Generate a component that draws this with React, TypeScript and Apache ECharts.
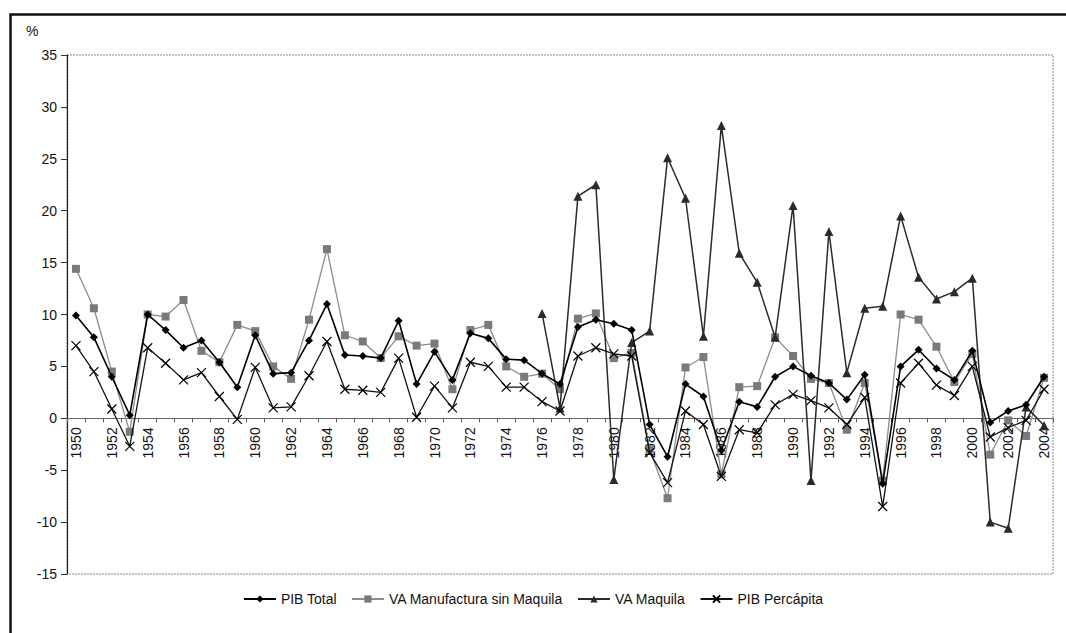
import React, { useEffect, useRef } from "react";
import * as echarts from "echarts";

const years: string[] = [];
for (let y = 1950; y <= 2004; y++) years.push(String(y));

const pibTotal = [
  9.9, 7.8, 4.0, 0.3, 10.0, 8.5, 6.8, 7.5, 5.4, 3.0,
  8.0, 4.3, 4.4, 7.5, 11.0, 6.1, 6.0, 5.8, 9.4, 3.3,
  6.4, 3.7, 8.2, 7.7, 5.7, 5.6, 4.3, 3.3, 8.8, 9.5,
  9.1, 8.5, -0.6, -3.7, 3.3, 2.1, -3.1, 1.6, 1.1, 4.0,
  5.0, 4.1, 3.4, 1.8, 4.2, -6.3, 5.0, 6.6, 4.8, 3.7,
  6.5, -0.4, 0.7, 1.3, 4.0,
];

const vaManufactura = [
  14.4, 10.6, 4.5, -1.3, 10.0, 9.8, 11.4, 6.5, 5.4, 9.0,
  8.4, 5.0, 3.8, 9.5, 16.3, 8.0, 7.4, 5.8, 7.9, 7.0,
  7.2, 2.8, 8.5, 9.0, 5.0, 4.0, 4.3, 2.8, 9.6, 10.1,
  5.8, 6.3, -3.0, -7.7, 4.9, 5.9, -5.4, 3.0, 3.1, 7.8,
  6.0, 3.8, 3.4, -1.1, 3.4, -6.0, 10.0, 9.5, 6.9, 3.5,
  6.2, -3.5, -0.2, -1.7, 3.9,
];

const vaMaquila: (number | null)[] = [
  null, null, null, null, null, null, null, null, null, null,
  null, null, null, null, null, null, null, null, null, null,
  null, null, null, null, null, null, 10.1, 1.0, 21.4, 22.5,
  -5.9, 7.3, 8.4, 25.1, 21.2, 7.9, 28.2, 15.9, 13.1, 7.8,
  20.5, -6.0, 18.0, 4.4, 10.6, 10.8, 19.5, 13.6, 11.5, 12.2,
  13.5, -10.0, -10.6, 1.1, -0.7,
];

const pibPercapita = [
  7.0, 4.5, 0.9, -2.7, 6.8, 5.3, 3.7, 4.4, 2.1, -0.1,
  4.9, 1.0, 1.1, 4.1, 7.4, 2.8, 2.7, 2.5, 5.8, 0.1,
  3.1, 1.0, 5.4, 5.0, 3.0, 3.0, 1.6, 0.7, 6.0, 6.8,
  6.2, 6.0, -3.3, -6.2, 0.7, -0.6, -5.6, -1.1, -1.4, 1.3,
  2.3, 1.7, 1.0, -0.6, 2.0, -8.5, 3.4, 5.3, 3.2, 2.2,
  5.0, -1.8, -0.9, -0.2, 2.8,
];

const yTicks = { min: -15, max: 35, interval: 5 };
const seriesNames = ["PIB Total", "VA Manufactura sin Maquila", "VA Maquila", "PIB Percápita"];

const FONT = "'Liberation Sans', Arial, sans-serif";

export default function App() {
  const ref = useRef<HTMLDivElement>(null);

  useEffect(() => {
    if (!ref.current) return;
    const chart = echarts.init(ref.current, undefined, { renderer: "svg" });
    const G = { left: 67, top: 55, right: 13, bottom: 59 };
    const gridH = 633 - G.top - G.bottom;
    // place the category axis on the zero value line
    const zeroOffset = -gridH * (0 - yTicks.min) / (yTicks.max - yTicks.min);
    chart.setOption({
      animation: false,
      backgroundColor: "#fff",
      textStyle: { fontFamily: FONT },
      grid: { left: G.left, top: G.top, right: G.right, bottom: G.bottom, containLabel: false },
      graphic: [
        {
          type: "rect",
          left: 8,
          top: 12,
          shape: { width: 1080, height: 700 },
          style: { fill: "none", stroke: "#111", lineWidth: 2.5 },
          silent: true,
          z: -10,
        },
        {
          type: "rect",
          shape: { x: G.left, y: G.top, width: 1066 - G.left - G.right, height: gridH },
          style: { fill: "none", stroke: "#8a8a8a", lineWidth: 1, lineDash: [2, 1] },
          silent: true,
          z: -5,
        },
        {
          type: "text",
          left: 26,
          top: 24,
          style: { text: "%", fontSize: 14, fontFamily: FONT, fill: "#111" },
        },
      ],
      legend: {
        data: seriesNames,
        bottom: 22,
        left: "center",
        itemWidth: 32,
        itemHeight: 9,
        itemGap: 14,
        textStyle: { fontSize: 14, color: "#111", fontFamily: FONT },
      },
      xAxis: {
        type: "category",
        data: years,
        boundaryGap: true,
        position: "bottom",
        offset: zeroOffset,
        axisLine: { onZero: false, lineStyle: { color: "#666", width: 1 } },
        axisTick: { show: true, interval: 0, length: 4, lineStyle: { color: "#555" } },
        axisLabel: {
          rotate: 90,
          interval: 1,
          fontSize: 14,
          color: "#111",
          margin: 9,
          fontFamily: FONT,
        },
        splitLine: { show: false },
      },
      yAxis: {
        type: "value",
        min: yTicks.min,
        max: yTicks.max,
        interval: yTicks.interval,
        axisLine: { show: true, lineStyle: { color: "#222", width: 1.2 } },
        axisTick: { show: true, length: 6, lineStyle: { color: "#333" } },
        axisLabel: { fontSize: 14, color: "#111", margin: 10, fontFamily: FONT },
        splitLine: { show: false },
      },
      series: [
        {
          name: seriesNames[0],
          type: "line",
          data: pibTotal,
          symbol: "diamond",
          symbolSize: 8,
          itemStyle: { color: "#000" },
          lineStyle: { color: "#000", width: 1.6 },
          z: 5,
        },
        {
          name: seriesNames[1],
          type: "line",
          data: vaManufactura,
          symbol: "rect",
          symbolSize: 8,
          itemStyle: { color: "#7a7a7a" },
          lineStyle: { color: "#8c8c8c", width: 1.3 },
          z: 3,
        },
        {
          name: seriesNames[2],
          type: "line",
          data: vaMaquila,
          symbol: "triangle",
          symbolSize: 9,
          connectNulls: false,
          itemStyle: { color: "#2a2a2a" },
          lineStyle: { color: "#2a2a2a", width: 1.5 },
          z: 4,
        },
        {
          name: seriesNames[3],
          type: "line",
          data: pibPercapita,
          symbol: "path://M0,0L10,10M10,0L0,10",
          symbolSize: 9,
          itemStyle: { color: "#000", borderColor: "#000", borderWidth: 1.2 },
          lineStyle: { color: "#111", width: 1.3 },
          z: 4,
        },
      ],
    });
    return () => chart.dispose();
  }, []);

  return (
    <div
      ref={ref}
      style={{ position: "fixed", left: 0, top: 0, width: 1066, height: 633, background: "#fff" }}
    />
  );
}
